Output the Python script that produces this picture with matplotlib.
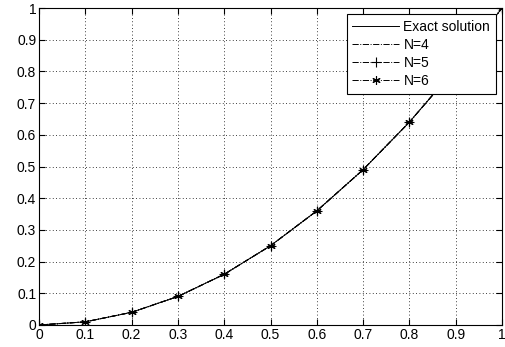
import matplotlib
matplotlib.use("Agg")
from matplotlib import pyplot as plt

x = [0.0, 0.1, 0.2, 0.3, 0.4, 0.5, 0.6, 0.7, 0.8, 0.9, 1.0]
exact = [0.0, 0.01, 0.04, 0.09, 0.16, 0.25, 0.36, 0.49, 0.64, 0.81, 1.0]
n4 = [0.0, 0.01, 0.04, 0.09, 0.16, 0.25, 0.36, 0.49, 0.64, 0.81, 1.0]
n5 = [0.0, 0.01, 0.04, 0.09, 0.16, 0.25, 0.36, 0.49, 0.64, 0.81, 1.0]
n6 = [0.0, 0.01, 0.04, 0.09, 0.16, 0.25, 0.36, 0.49, 0.64, 0.81, 1.0]

ticks = [0, 0.1, 0.2, 0.3, 0.4, 0.5, 0.6, 0.7, 0.8, 0.9, 1]
tick_labels = ["0", "0.1", "0.2", "0.3", "0.4", "0.5", "0.6", "0.7", "0.8", "0.9", "1"]

plt.rcParams["font.family"] = ["Liberation Sans", "DejaVu Sans"]
plt.rcParams["font.size"] = 10

fig = plt.figure(figsize=(5.05, 3.47), dpi=100)
ax = fig.add_axes([39 / 505, 22 / 347, 463 / 505, 317 / 347])

ax.plot(x, exact, color="black", linewidth=0.7, label="Exact solution")
ax.plot(x, n4, color="black", linewidth=0.7, linestyle="-.", label="N=4")
ax.plot(x, n5, color="black", linewidth=0.7, linestyle="-.", marker="+",
        markersize=7, markeredgewidth=0.8, label="N=5")
ax.plot(x, n6, color="black", linewidth=0.7, linestyle="-.", marker=(6, 2, 0),
        markersize=6, markeredgewidth=0.8, label="N=6")

ax.set_xlim(0, 1)
ax.set_ylim(0, 1)
ax.set_xticks(ticks)
ax.set_xticklabels(tick_labels)
ax.set_yticks(ticks)
ax.set_yticklabels(tick_labels)
ax.grid(True, color="black", linestyle=(0, (1, 3)), linewidth=0.6)
ax.tick_params(direction="in", top=True, right=True, length=4, pad=2)
for s in ax.spines.values():
    s.set_linewidth(0.8)

leg = ax.legend(loc="upper right", fancybox=False, edgecolor="black",
                framealpha=1, borderaxespad=0.45, handlelength=3.4,
                handletextpad=0.3, labelspacing=0.3, borderpad=0.4)
leg.get_frame().set_linewidth(0.8)

fig.savefig("out.png", dpi=100)
